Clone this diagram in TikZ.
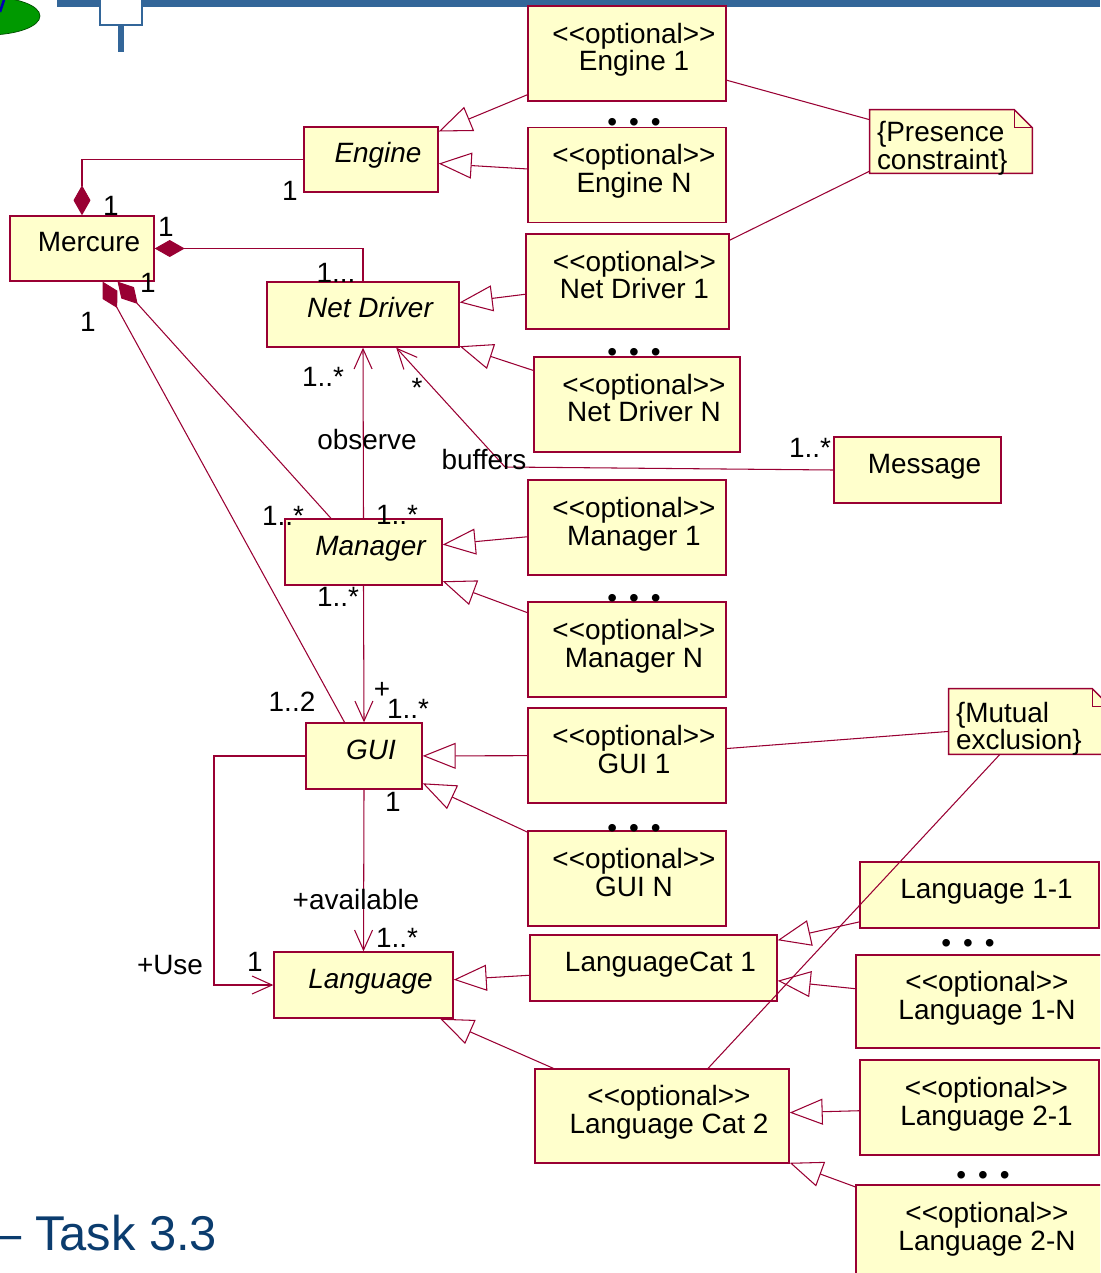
\documentclass[tikz,border=0pt]{standalone}
\usepackage{fontspec}
\setmainfont{Liberation Sans}[Ligatures=TeXOff]
\usetikzlibrary{arrows.meta,backgrounds}
\definecolor{umlred}{HTML}{990033}
\definecolor{umlfill}{HTML}{FFFFCC}
\definecolor{slideblue}{HTML}{336699}
\definecolor{titleblue}{HTML}{0B3C6E}
\newcommand{\diafont}{\fontsize{15.9}{15.9}\selectfont}
\newcommand{\optst}{<\kern0pt<optional>\kern0pt>}
\newcommand{\optrow}[1]{\kern0.28cm\optst\\\kern0.28cm#1}
\newcommand{\threedots}{\textbullet\hspace{0.43em}\textbullet\hspace{0.43em}\textbullet}

\begin{document}
\begin{tikzpicture}[x=0.02cm, y=-0.02cm, font=\diafont,
    cls/.style={draw=umlred, fill=umlfill, line width=0.8pt, inner sep=0pt,
      text height=0.4cm, text depth=0.26cm, execute at begin node={\kern0.28cm}},
    optcls/.style={draw=umlred, fill=umlfill, line width=0.8pt, inner sep=0pt, align=center,
      text height=0.97cm, text depth=0.27cm, minimum width=3.96cm, minimum height=1.9cm},
    abscls/.style={cls, font=\diafont\itshape},
    lbl/.style={inner sep=0pt},
    dots/.style={inner sep=0pt},
    note/.style={align=left, inner xsep=0.14cm, inner ysep=0pt, text width=#1,
      text height=0.42cm, text depth=0.4cm},
    notebox/.style={draw=umlred, line width=0.8pt},
    link/.style={draw=umlred, line width=0.6pt},
    gen/.style={link, -{Triangle[open, length=0.66cm, width=0.52cm]}},
    nav/.style={link, -{Straight Barb[length=0.4cm, width=0.36cm]}},
    comp/.style={link, {Diamond[length=0.6cm, width=0.34cm]}-}]
  \useasboundingbox (0,0) rectangle (1100,1273);
  \clip (0,0) rectangle (1100,1273);

  % slide header and title
  \fill[slideblue] (57,0) rectangle (1100,7);
  \draw[slideblue, line width=1.2pt, fill=white] (100,-10) rectangle (142,25);
  \fill[slideblue] (118,25) rectangle (124,52);
  \draw[green!30!black, fill=green!60!black] (-12,16) ellipse [x radius=1.04cm, y radius=0.38cm];
  \draw[blue!70!black, line width=1.5pt] (0,12) -- (4,0);
  \node[anchor=base west, inner sep=0pt, text=titleblue, font=\fontsize{27.8}{27.8}\selectfont] (title) at (-6,1250) {– Task 3.3};

  % classes
  \node[cls, minimum width=2.88cm, minimum height=1.3cm] (merc) at (82,248.5) {Mercure};
  \node[abscls, minimum width=2.68cm, minimum height=1.3cm] (eng) at (371,159.5) {Engine};
  \node[optcls] (eng1) at (627,53.5) {\optrow{Engine 1}};
  \node[optcls] (engN) at (627,175) {\optrow{Engine N}};
  \node[dots] (engdots) at (634,125) {\threedots};

  \node[abscls, minimum width=3.84cm, minimum height=1.3cm] (nd) at (363,314.5) {Net Driver};
  \node[optcls, minimum width=4.06cm] (nd1) at (627.5,281.5) {\optrow{Net Driver 1}};
  \node[optcls, minimum width=4.12cm] (ndN) at (637,404.5) {\optrow{Net Driver N}};
  \node[dots] (nddots) at (634,355) {\threedots};
  \node[cls, minimum width=3.34cm, minimum height=1.32cm] (msg) at (917.5,470) {Message};

  \node[abscls, minimum width=3.14cm, minimum height=1.32cm] (mgr) at (363.5,552) {Manager};
  \node[optcls] (mgr1) at (627,527.5) {\optrow{Manager 1}};
  \node[optcls] (mgrN) at (627,649.5) {\optrow{Manager N}};
  \node[dots] (mgrdots) at (634,601) {\threedots};

  \node[abscls, minimum width=2.32cm, minimum height=1.32cm] (gui) at (364,756) {GUI};
  \node[optcls] (gui1) at (627,755.5) {\optrow{GUI 1}};
  \node[optcls] (guiN) at (627,878.5) {\optrow{GUI N}};
  \node[dots] (guidots) at (634,831) {\threedots};

  \node[abscls, minimum width=3.58cm, minimum height=1.32cm] (lang) at (363.5,985) {Language};
  \node[cls, minimum width=4.94cm, minimum height=1.32cm] (lcat1) at (653.5,968) {LanguageCat 1};
  \node[optcls, minimum width=5.08cm, minimum height=1.88cm] (lcat2) at (662,1116) {\optrow{Language Cat 2}};
  \node[cls, minimum width=4.78cm, minimum height=1.32cm] (lang11) at (979.5,895) {Language 1-1};
  \node[optcls, minimum width=4.96cm, minimum height=1.86cm] (lang1N) at (980,1001.5) {\optrow{Language 1-N}};
  \node[dots] (l1dots) at (968,946) {\threedots};
  \node[optcls, minimum width=4.78cm] (lang21) at (979.5,1107.5) {\optrow{Language 2-1}};
  \node[optcls, minimum width=4.96cm] (lang2N) at (980,1232.5) {\optrow{Language 2-N}};
  \node[dots] (l2dots) at (983,1178) {\threedots};

  % constraint notes
  \node[note=2.96cm, minimum height=1.26cm] (pres) at (951,141.5) {\{Presence\\constraint\}};
  \node[note=2.94cm, minimum height=1.3cm] (mut) at (1029.5,721.5) {\{Mutual\\exclusion\}};
  \begin{scope}[on background layer]
    \foreach \n in {pres,mut} {
      \draw[notebox, fill=umlfill] (\n.north west) -- ([xshift=-0.36cm]\n.north east)
        -- ([yshift=-0.36cm]\n.north east) -- (\n.south east) -- (\n.south west) -- cycle;
      \draw[notebox] ([xshift=-0.36cm]\n.north east) |- ([yshift=-0.36cm]\n.north east);
    }
  \end{scope}

  % generalisations
  \draw[gen] (eng1) -- (eng);
  \draw[gen] (engN) -- (eng);
  \draw[gen] (nd1) -- (nd);
  \draw[gen] (ndN) -- (nd);
  \draw[gen] (mgr1) -- (mgr);
  \draw[gen] (mgrN) -- (mgr);
  \draw[gen] (gui1) -- (gui);
  \draw[gen] (guiN) -- (gui);
  \draw[gen] (lcat1) -- (lang);
  \draw[gen] (lcat2) -- (lang);
  \draw[gen] (lang11) -- (lcat1);
  \draw[gen] (lang1N) -- (lcat1);
  \draw[gen] (lang21) -- (lcat2);
  \draw[gen] (lang2N) -- (lcat2);

  % compositions
  \draw[comp] (merc.north) |- (eng.west);
  \draw[comp] (merc.east) -| (nd.north);
  \draw[comp] (merc.-43) -- (mgr.134);
  \draw[comp] (merc.-58) -- (gui.120);

  % associations
  \coordinate (usebend) at (214,756);
  \coordinate (bufbend) at (505,467);
  \draw[nav] (mgr.north) -- (nd.south);
  \draw[nav] (mgr.south) -- (gui.north);
  \draw[nav] (gui.south) -- (lang.north);
  \draw[nav] (gui.west) -- (usebend) |- (lang.west);
  \draw[nav] (msg.west) -- (bufbend) -- (nd.-45);

  % note links
  \draw[link] (eng1.-15) -- (pres.165);
  \draw[link] (pres.200) -- (nd1.22);
  \draw[link] (gui1.4) -- (mut.187);
  \draw[link] (mut.228) -- (lcat2.46);

  % multiplicities and roles
  \node[lbl] (m1) at (111,206) {1};
  \node[lbl] (m2) at (290,191) {1};
  \node[lbl] (m3) at (166,227) {1};
  \node[lbl] (m4) at (336,273) {1...};
  \node[lbl] (m5) at (148,283) {1};
  \node[lbl] (m6) at (88,322) {1};
  \node[lbl] (m7) at (283,516) {1..*};
  \node[lbl] (m8) at (292,702) {1..2};
  \node[lbl] (o1) at (323,377) {1..*};
  \node[lbl] (o2) at (367,440) {observe};
  \node[lbl] (o3) at (397,515) {1..*};
  \node[lbl] (b1) at (417,388) {*};
  \node[lbl] (b2) at (484,460) {buffers};
  \node[lbl] (b3) at (810,448) {1..*};
  \node[lbl] (g1) at (338,597) {1..*};
  \node[lbl] (g2) at (382,690) {+};
  \node[lbl] (g3) at (408,709) {1..*};
  \node[lbl] (a1) at (393,802) {1};
  \node[lbl] (a2) at (356,900) {+available};
  \node[lbl] (a3) at (397,938) {1..*};
  \node[lbl] (u1) at (170,965) {+Use};
  \node[lbl] (u2) at (255,962) {1};
\end{tikzpicture}
\end{document}
